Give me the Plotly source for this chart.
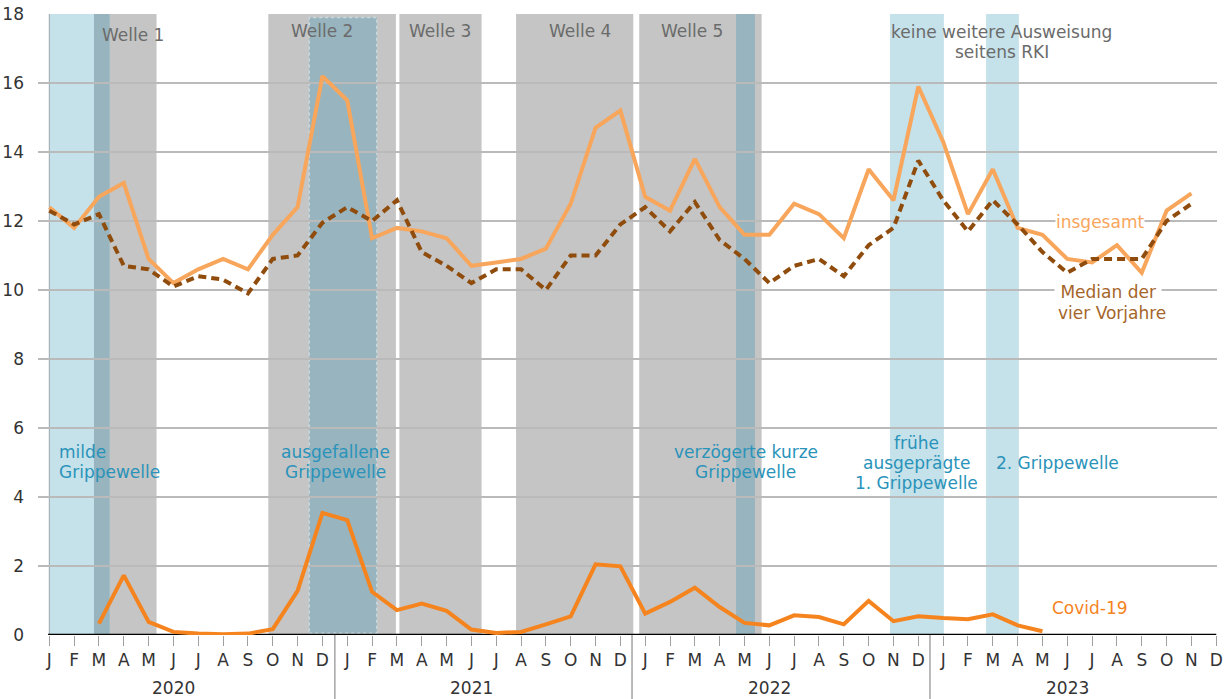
import plotly.graph_objects as go

# month index 0 = Jan 2020 ... 47 = Dec 2023
month_labels = ["J", "F", "M", "A", "M", "J", "J", "A", "S", "O", "N", "D"] * 4
year_labels = ["2020", "2021", "2022", "2023"]

# Sterbefälle insgesamt (Jan 2020 - Nov 2023)
insgesamt = [12.4, 11.8, 12.7, 13.1, 10.9, 10.2, 10.6, 10.9, 10.6, 11.6, 12.4, 16.2,
             15.5, 11.5, 11.8, 11.7, 11.5, 10.7, 10.8, 10.9, 11.2, 12.5, 14.7, 15.2,
             12.7, 12.3, 13.8, 12.4, 11.6, 11.6, 12.5, 12.2, 11.5, 13.5, 12.6, 15.9,
             14.3, 12.2, 13.5, 11.8, 11.6, 10.9, 10.8, 11.3, 10.5, 12.3, 12.8]

# Median der vier Vorjahre (Jan 2020 - Nov 2023)
median = [12.3, 11.9, 12.2, 10.7, 10.6, 10.1, 10.4, 10.3, 9.9, 10.9, 11.0, 11.95,
          12.4, 12.0, 12.6, 11.1, 10.7, 10.2, 10.6, 10.6, 10.0, 11.0, 11.0, 11.9,
          12.4, 11.7, 12.55, 11.45, 10.9, 10.2, 10.7, 10.9, 10.4, 11.3, 11.8, 13.75,
          12.6, 11.7, 12.6, 11.9, 11.1, 10.5, 10.9, 10.9, 10.9, 12.0, 12.5]

# Covid-19 (Mar 2020 - May 2023)
covid_start = 2
covid = [0.33, 1.73, 0.38, 0.09, 0.04, 0.02, 0.04, 0.17, 1.28, 3.54,
         3.33, 1.25, 0.72, 0.91, 0.70, 0.16, 0.06, 0.09, 0.31, 0.54, 2.05, 1.99,
         0.62, 0.96, 1.37, 0.81, 0.35, 0.28, 0.57, 0.52, 0.31, 0.99, 0.40, 0.54,
         0.49, 0.46, 0.60, 0.28, 0.11]

# Corona-Wellen (grau) und Grippewellen (blau), in Monatsindex
waves = [(2.44, 4.32), (8.82, 13.96), (14.1, 17.41), (18.8, 23.52), (23.76, 28.69)]
wave_names = ["Welle 1", "Welle 2", "Welle 3", "Welle 4", "Welle 5"]
flu = [(0.0, 1.8), (33.86, 36.03), (37.73, 39.05)]
flu_overlap = [(1.8, 2.44), (27.66, 28.42)]
flu_cancelled = (10.47, 13.19)

GREY = "#c4c5c4"
LIGHTBLUE = "#c5e1e9"
DARKBLUE = "#98b4be"
BLUE_TXT = "#2a93ba"
GREY_TXT = "#6b6b6b"
FONT = "DejaVu Sans"

fig = go.Figure()

fig.add_trace(go.Scatter(x=list(range(covid_start, covid_start + len(covid))), y=covid,
                         mode="lines", line=dict(color="#f5841f", width=4), hoverinfo="skip"))
fig.add_trace(go.Scatter(x=list(range(len(insgesamt))), y=insgesamt,
                         mode="lines", line=dict(color="#f8a65c", width=4), hoverinfo="skip"))
fig.add_trace(go.Scatter(x=list(range(len(median))), y=median,
                         mode="lines", line=dict(color="#8f4c0c", width=4, dash="8px,5px"),
                         hoverinfo="skip"))

shapes = []
for x0, x1 in waves:
    shapes.append(dict(type="rect", x0=x0, x1=x1, y0=0, y1=18, fillcolor=GREY,
                       line_width=0, layer="below"))
for x0, x1 in flu:
    shapes.append(dict(type="rect", x0=x0, x1=x1, y0=0, y1=18, fillcolor=LIGHTBLUE,
                       line_width=0, layer="below"))
for x0, x1 in flu_overlap:
    shapes.append(dict(type="rect", x0=x0, x1=x1, y0=0, y1=18, fillcolor=DARKBLUE,
                       line_width=0, layer="below"))
shapes.append(dict(type="rect", x0=flu_cancelled[0], x1=flu_cancelled[1], y0=0.05, y1=17.9,
                   fillcolor=DARKBLUE, line=dict(color="#c8d9df", width=1.5, dash="dot"),
                   layer="below"))
# thin line at start of series
shapes.append(dict(type="line", x0=0, x1=0, y0=0, y1=18, line=dict(color="#9aa6aa", width=1),
                   layer="below"))
# year separators
for xs, top in [(11.5, 17 / 18), (23.47, 1.0), (35.47, 17 / 18)]:
    shapes.append(dict(type="line", xref="x", yref="paper", x0=xs, x1=xs, y0=-0.104, y1=top,
                       line=dict(color="#a4a4a4", width=1.5), layer="between"))
# x axis line
shapes.append(dict(type="line", x0=-0.05, x1=47, y0=0, y1=0, line=dict(color="black", width=2.5),
                   layer="between"))


def text(x, y, s, color, xanchor="center", bg=None, xref="x", yref="y"):
    a = dict(x=x, y=y, xref=xref, yref=yref, text=s, showarrow=False, xanchor=xanchor,
             yanchor="middle", font=dict(family=FONT, size=17, color=color))
    if bg:
        a["bgcolor"] = bg
        a["borderpad"] = 0
    return a


ann = []
wave_pos = [(3.37, 17.38), (10.97, 17.5), (15.73, 17.5), (21.37, 17.5), (25.87, 17.5)]
for name, (wx, wy) in zip(wave_names, wave_pos):
    ann.append(text(wx, wy, name, GREY_TXT))
ann.append(text(38.36, 17.47, "keine weitere Ausweisung", GREY_TXT))
ann.append(text(38.36, 16.9, "seitens RKI", GREY_TXT))

ann.append(text(0.3, 5.3, "milde", BLUE_TXT, xanchor="left"))
ann.append(text(0.3, 4.72, "Grippewelle", BLUE_TXT, xanchor="left"))
ann.append(text(11.54, 5.3, "ausgefallene", BLUE_TXT))
ann.append(text(11.54, 4.72, "Grippewelle", BLUE_TXT))
ann.append(text(28.05, 5.3, "verzögerte kurze", BLUE_TXT))
ann.append(text(28.05, 4.72, "Grippewelle", BLUE_TXT))
ann.append(text(34.94, 5.56, "frühe", BLUE_TXT))
ann.append(text(34.94, 4.98, "ausgeprägte", BLUE_TXT))
ann.append(text(34.94, 4.42, "1. Grippewelle", BLUE_TXT))
ann.append(text(38.05, 5.0, "2. Grippewelle", BLUE_TXT, xanchor="left"))

ann.append(text(42.32, 11.96, "insgesamt", "#f8a65c", bg="white"))
ann.append(text(40.45, 9.93, " Median der ", "#a5652a", xanchor="left", bg="white"))
ann.append(text(40.54, 9.32, "vier Vorjahre", "#a5652a", xanchor="left"))
ann.append(text(41.91, 0.77, "Covid-19", "#f5841f"))

for i, yr in enumerate(year_labels):
    ann.append(text(5 + 12 * i, -0.0855, yr, "#333333", yref="paper"))

fig.update_layout(
    width=1228, height=699,
    margin=dict(l=38, r=11, t=14, b=64),
    paper_bgcolor="white", plot_bgcolor="white",
    showlegend=False,
    font=dict(family=FONT, size=17, color="#333333"),
    shapes=shapes, annotations=ann,
    xaxis=dict(range=[-0.455, 47.03], tickvals=list(range(48)), ticktext=month_labels,
               showgrid=False, zeroline=False, showline=False, automargin=False,
               ticks="outside", ticklen=10, tickcolor="#a0a0a0", tickwidth=1,
               tickfont=dict(family=FONT, size=17, color="#333333")),
    yaxis=dict(range=[0, 18], tickvals=list(range(0, 19, 2)), showgrid=True,
               gridcolor="#bababa", gridwidth=2, zeroline=False, showline=False,
               ticks="", ticklabelstandoff=13, automargin=False,
               tickfont=dict(family=FONT, size=17, color="#333333")),
)

# drop the browser's default 8px body margin so the figure sits at the page corner
fig.write_html("out.html", config={"displayModeBar": False},
               post_script="document.body.style.margin = '0px';")
